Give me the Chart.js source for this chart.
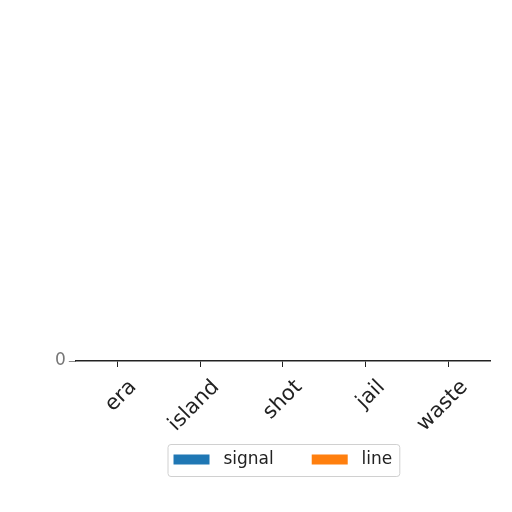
<!DOCTYPE html>
<html>
<head>
<meta charset="utf-8">
<script src="https://cdn.jsdelivr.net/npm/chart.js@4"></script>
<style>
  html, body { margin: 0; padding: 0; background: #fff; }
  #wrap { width: 512px; height: 512px; }
</style>
</head>
<body>
<div id="wrap"><canvas id="chart"></canvas></div>
<script>
const categories = ['era', 'island', 'shot', 'jail', 'waste'];
const signalValues = [0, 0, 0, 0, 0];
const lineValues = [0, 0, 0, 0, 0];
const yTicks = [0];

// frame around the legend, matplotlib style
const legendFrame = {
    id: 'legendFrame',
    afterDraw(chart) {
        const items = chart.legend?.legendHitBoxes;
        if (!items || !items.length) return;
        const left = Math.min(...items.map(b => b.left)) - 6;
        const right = Math.max(...items.map(b => b.left + b.width)) + 7;
        const top = Math.min(...items.map(b => b.top)) - 7;
        const bottom = Math.max(...items.map(b => b.top + b.height)) + 8;
        const ctx = chart.ctx;
        ctx.save();
        ctx.strokeStyle = '#d0d0d0';
        ctx.lineWidth = 1;
        ctx.beginPath();
        ctx.roundRect(left + 0.5, top + 0.5, right - left, bottom - top, 3);
        ctx.stroke();
        ctx.restore();
    }
};

Chart.defaults.font.family = 'DejaVu Sans';
Chart.defaults.color = '#222';

// wider gaps around legend texts, like matplotlib's handletextpad / columnspacing
const spacedLabels = chart =>
    Chart.defaults.plugins.legend.labels.generateLabels(chart).map((item, i, all) => ({
        ...item,
        text: ' ' + item.text + (i < all.length - 1 ? '     ' : '')
    }));

new Chart(document.getElementById('chart').getContext('2d'), {
    type: 'bar',
    data: {
        labels: categories,
        datasets: [
            { label: 'signal', data: signalValues, backgroundColor: '#1f77b4' },
            { label: 'line', data: lineValues, backgroundColor: '#ff7f0e' }
        ]
    },
    options: {
        responsive: true,
        maintainAspectRatio: false,
        animation: false,
        layout: { padding: { top: 330, left: 52, right: 22, bottom: 34 } },
        plugins: {
            legend: {
                position: 'bottom',
                fullSize: false,
                labels: {
                    boxWidth: 36, boxHeight: 10, padding: 11, font: { size: 17 },
                    generateLabels: spacedLabels
                }
            },
            tooltip: { enabled: false }
        },
        scales: {
            x: {
                afterFit: scale => { scale.height = 79; },
                grid: { display: true, offset: false, drawOnChartArea: false, tickLength: 6, color: '#222' },
                border: { display: true, color: '#222', width: 1.5 },
                ticks: { maxRotation: 45, minRotation: 45, font: { size: 21 }, padding: 8, labelOffset: 16 }
            },
            y: {
                min: 0,
                max: 1,
                afterBuildTicks: scale => { scale.ticks = yTicks.map(v => ({ value: v })); },
                grid: { display: true, drawOnChartArea: false, tickLength: 7, color: '#888' },
                border: { display: false },
                ticks: { color: '#777', font: { size: 17 }, padding: 3 }
            }
        }
    },
    plugins: [legendFrame]
});
</script>
</body>
</html>
